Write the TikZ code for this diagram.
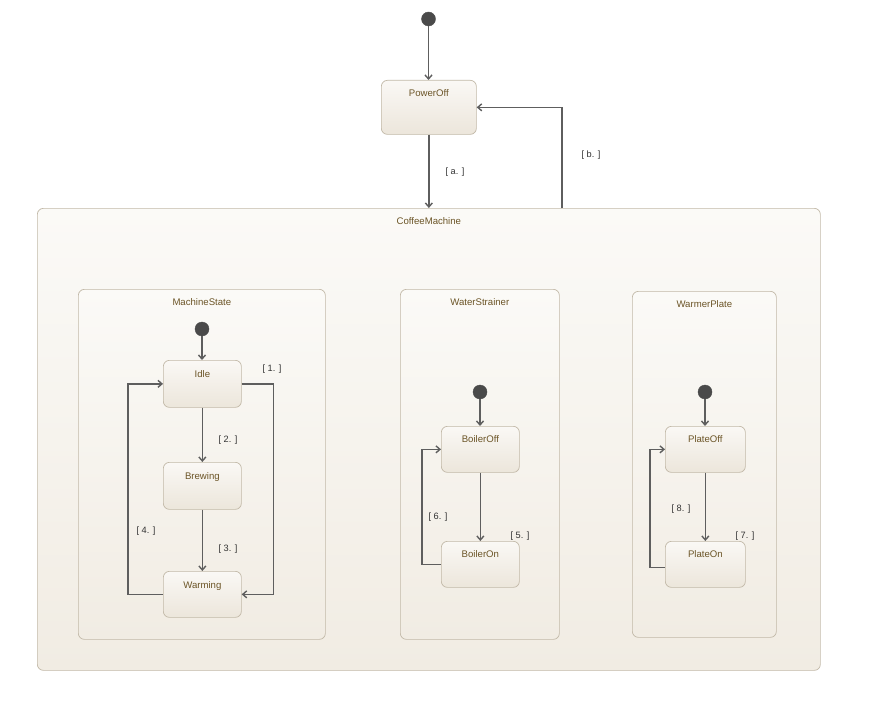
\documentclass[tikz,border=0pt]{standalone}
\usepackage{fontspec}
\setmainfont{Liberation Sans}
\usetikzlibrary{arrows.meta,positioning}
\definecolor{bordc}{HTML}{C2B9A8}
\definecolor{txtc}{HTML}{6B5426}
\definecolor{linec}{HTML}{5E5E5E}
\definecolor{stTop}{HTML}{FAF8F5}
\definecolor{stBot}{HTML}{ECE6DB}
\definecolor{cTop}{HTML}{FBFAF7}
\definecolor{cBot}{HTML}{F1ECE3}
\definecolor{initc}{HTML}{4A4A4A}
\tikzset{
  statebox/.style={draw=bordc, line width=0.7pt, rounded corners=6pt, top color=stTop, bottom color=stBot, inner sep=0pt},
  contbox/.style={draw=bordc, line width=0.7pt, rounded corners=6pt, top color=cTop, bottom color=cBot, inner sep=0pt},
  ttl/.style={text=txtc, font=\fontsize{9.6}{11}\selectfont, inner sep=0pt},
  guard/.style={text=black!80, font=\fontsize{9.2}{11}\selectfont, inner sep=0pt},
  initst/.style={circle, fill=initc, draw=black!70, minimum size=14pt, inner sep=0pt},
  tr/.style={draw=linec, line width=1.4pt, -{Straight Barb[length=4pt,width=7pt]}},
}
\begin{document}
\begin{tikzpicture}[x=1pt,y=-1pt]
\useasboundingbox (0,0) rectangle (873,701);
\fill[white] (0,0) rectangle (873,701);
% containers
\node[contbox, minimum width=783pt, minimum height=462pt, anchor=north west,
  label={[ttl,anchor=north,yshift=-9pt]north:CoffeeMachine}] (cm) at (37,208) {};
\node[contbox, minimum width=247pt, minimum height=350pt, anchor=north west,
  label={[ttl,anchor=north,yshift=-9pt]north:MachineState}] (ms) at (78,289) {};
\node[contbox, minimum width=159pt, minimum height=350pt, anchor=north west,
  label={[ttl,anchor=north,yshift=-9pt]north:WaterStrainer}] (ws) at (400,289) {};
\node[contbox, minimum width=144pt, minimum height=346pt, anchor=north west,
  label={[ttl,anchor=north,yshift=-9pt]north:WarmerPlate}] (wp) at (632,291) {};
% states
\node[statebox, minimum width=95pt, minimum height=54pt, anchor=north west,
  label={[ttl,anchor=north,yshift=-9pt]north:PowerOff}] (poweroff) at (381,80) {};
\node[statebox, minimum width=78pt, minimum height=47pt, anchor=north west,
  label={[ttl,anchor=north,yshift=-10pt]north:Idle}] (idle) at (163,360) {};
\node[statebox, minimum width=78pt, minimum height=47pt, anchor=north west,
  label={[ttl,anchor=north,yshift=-10pt]north:Brewing}] (brewing) at (163,462) {};
\node[statebox, minimum width=78pt, minimum height=46pt, anchor=north west,
  label={[ttl,anchor=north,yshift=-10pt]north:Warming}] (warming) at (163,571) {};
\node[statebox, minimum width=78pt, minimum height=46pt, anchor=north west,
  label={[ttl,anchor=north,yshift=-9pt]north:BoilerOff}] (boileroff) at (441,426) {};
\node[statebox, minimum width=78pt, minimum height=46pt, anchor=north west,
  label={[ttl,anchor=north,yshift=-9pt]north:BoilerOn}] (boileron) at (441,541) {};
\node[statebox, minimum width=80pt, minimum height=46pt, anchor=north west,
  label={[ttl,anchor=north,yshift=-9pt]north:PlateOff}] (plateoff) at (665,426) {};
\node[statebox, minimum width=80pt, minimum height=46pt, anchor=north west,
  label={[ttl,anchor=north,yshift=-9pt]north:PlateOn}] (plateon) at (665,541) {};
% initial states
\node[initst] (i0) at (428.5,19) {};
\node[initst] (i1) at (202,329) {};
\node[initst] (i2) at (480,392) {};
\node[initst] (i3) at (705,392) {};
% transitions
\draw[tr] (i0.south) -- (i0.south |- poweroff.north);
\draw[tr] (poweroff.south) -- (poweroff.south |- cm.north);
\node[guard] (ga) at (455,172) {[ a. ]};
\coordinate (bstart) at (562,208);
\draw[tr] (bstart) |- (poweroff.east);
\node[guard] (gb) at (591,155) {[ b. ]};
\draw[tr] (i1.south) -- (i1.south |- idle.north);
\draw[tr] (idle.south) -- (brewing.north);
\node[guard] (g2) at (228,440) {[ 2. ]};
\draw[tr] (brewing.south) -- (warming.north);
\node[guard] (g3) at (228,549) {[ 3. ]};
\draw[tr] (idle.east) -- ++(32,0) |- (warming.east);
\node[guard] (g1) at (272,369) {[ 1. ]};
\draw[tr] (warming.west) -- ++(-35,0) |- (idle.west);
\node[guard] (g4) at (146,531) {[ 4. ]};
\draw[tr] (i2.south) -- (i2.south |- boileroff.north);
\draw[tr] (boileroff.south) -- (boileron.north);
\node[guard] (g5) at (520,536) {[ 5. ]};
\draw[tr] (boileron.west) -- ++(-19,0) |- (boileroff.west);
\node[guard] (g6) at (438,517) {[ 6. ]};
\draw[tr] (i3.south) -- (i3.south |- plateoff.north);
\draw[tr] (plateoff.south) -- (plateon.north);
\node[guard] (g7) at (745,536) {[ 7. ]};
\draw[tr] ([yshift=-3pt]plateon.west) -- ++(-15,0) |- (plateoff.west);
\node[guard] (g8) at (681,509) {[ 8. ]};
\end{tikzpicture}
\end{document}
